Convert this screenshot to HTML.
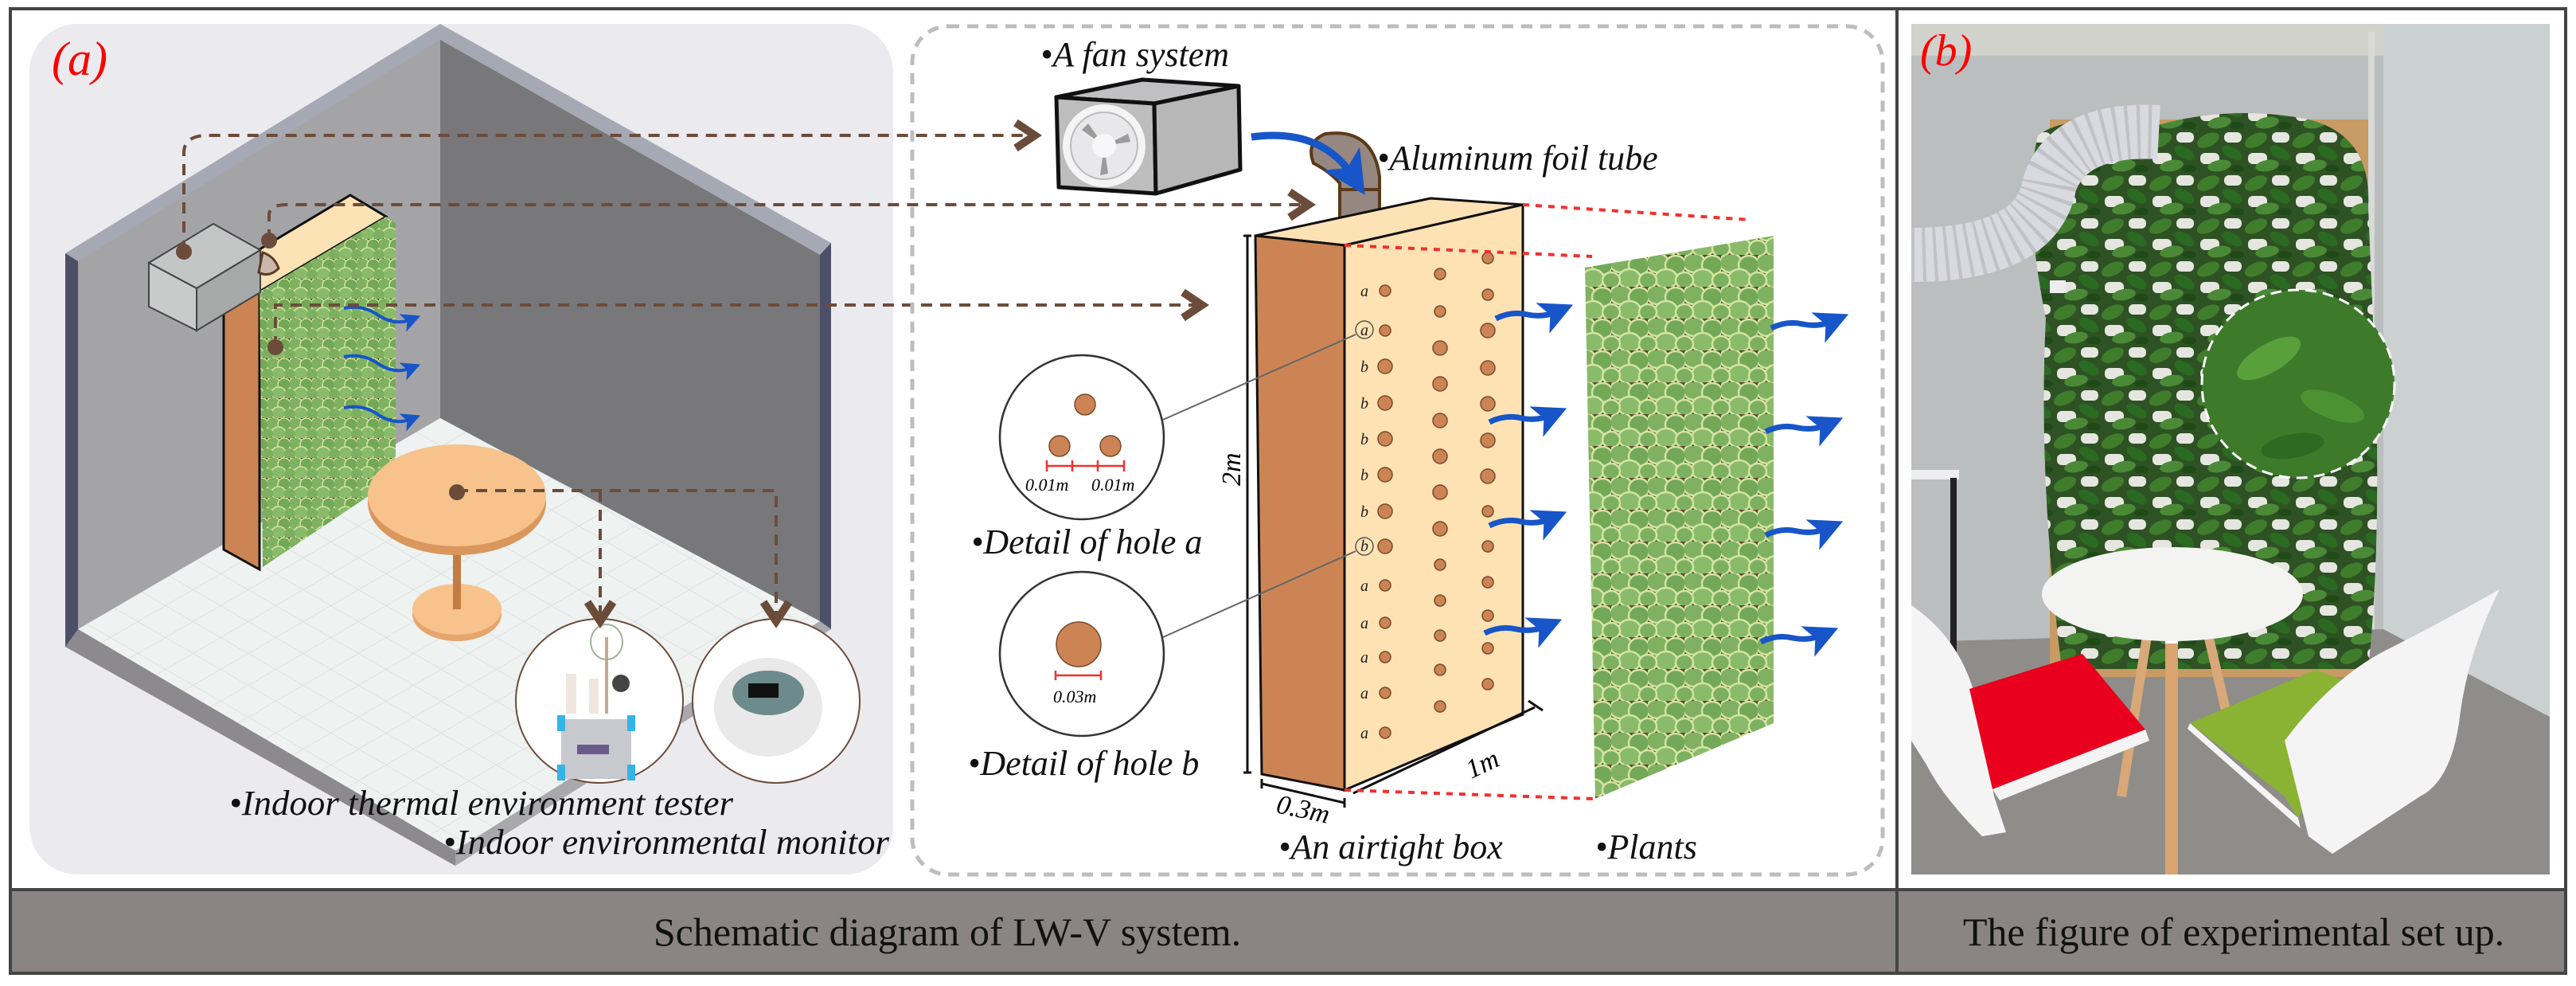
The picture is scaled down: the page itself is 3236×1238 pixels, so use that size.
<!DOCTYPE html>
<html><head><meta charset="utf-8"><style>
html,body{margin:0;padding:0;background:#fff}
svg{display:block}
text{font-family:"Liberation Serif","DejaVu Serif",serif}
.it{font-style:italic}
</style></head><body>
<svg width="3236" height="1238" viewBox="0 0 3236 1238" xmlns="http://www.w3.org/2000/svg" font-family="Liberation Serif, DejaVu Serif, serif">
<defs>
 <pattern id="leaf" width="46" height="40" patternUnits="userSpaceOnUse">
  <rect width="46" height="40" fill="#5e4a30"/>
  <ellipse cx="12" cy="10" rx="14" ry="12" fill="#7fb161" stroke="#d3e3a0" stroke-width="2.5"/>
  <ellipse cx="35" cy="13" rx="13" ry="12" fill="#73a857" stroke="#d3e3a0" stroke-width="2.5"/>
  <ellipse cx="23" cy="30" rx="14" ry="12" fill="#89bb6a" stroke="#d3e3a0" stroke-width="2.5"/>
  <ellipse cx="0" cy="32" rx="11" ry="10" fill="#7cb060" stroke="#d3e3a0" stroke-width="2.5"/>
  <ellipse cx="46" cy="32" rx="11" ry="10" fill="#7cb060" stroke="#d3e3a0" stroke-width="2.5"/>
 </pattern>
 <pattern id="leaf2" width="28" height="25" patternUnits="userSpaceOnUse">
  <rect width="28" height="25" fill="#5e4a30"/>
  <ellipse cx="7" cy="7" rx="9" ry="8" fill="#7fb161" stroke="#d3e3a0" stroke-width="1.5"/>
  <ellipse cx="21" cy="8" rx="8" ry="8" fill="#73a857" stroke="#d3e3a0" stroke-width="1.5"/>
  <ellipse cx="14" cy="19" rx="9" ry="8" fill="#89bb6a" stroke="#d3e3a0" stroke-width="1.5"/>
  <ellipse cx="0" cy="20" rx="7" ry="7" fill="#7cb060"/>
  <ellipse cx="28" cy="20" rx="7" ry="7" fill="#7cb060"/>
 </pattern>
 <pattern id="grid" width="40" height="40" patternUnits="userSpaceOnUse" patternTransform="matrix(0.866,0.5,-0.866,0.5,0,0)">
  <rect width="40" height="40" fill="#eef2f1"/>
  <path d="M0 0H40M0 0V40" stroke="#d5dbda" stroke-width="1.5"/>
 </pattern>
 <pattern id="pl" width="60" height="54" patternUnits="userSpaceOnUse">
  <rect width="60" height="54" fill="#2e5224"/>
  <rect x="4" y="30" width="24" height="14" rx="6" fill="#e6e6e0"/>
  <rect x="34" y="4" width="22" height="13" rx="6" fill="#e6e6e0"/>
  <ellipse cx="14" cy="14" rx="15" ry="8" fill="#3f7d2c" transform="rotate(-25 14 14)"/>
  <ellipse cx="44" cy="30" rx="14" ry="7" fill="#2b6a22" transform="rotate(30 44 30)"/>
  <ellipse cx="28" cy="46" rx="15" ry="7" fill="#4a8a36" transform="rotate(-10 28 46)"/>
  <ellipse cx="50" cy="50" rx="9" ry="5" fill="#1f4a18"/>
 </pattern>
 <marker id="ah" markerWidth="10" markerHeight="10" refX="5" refY="5" orient="auto"><path d="M1 1L7 5L1 9" fill="none" stroke="#6b4c3b" stroke-width="2.5"/></marker>
 <marker id="ba" markerWidth="6" markerHeight="6" refX="3" refY="3" orient="auto"><path d="M0 0L6 3L0 6L1.5 3Z" fill="#1755c9"/></marker>
</defs>

<rect x="13" y="11" width="3210" height="1211" fill="#fff" stroke="#444" stroke-width="4"/>
<rect x="13" y="1117" width="3210" height="105" fill="#8a8484" stroke="#444" stroke-width="4"/>
<line x1="2383" y1="11" x2="2383" y2="1222" stroke="#444" stroke-width="4"/>
<text x="1190" y="1187" font-size="50" text-anchor="middle" fill="#111">Schematic diagram of LW-V system.</text>
<text x="2806" y="1187" font-size="50" text-anchor="middle" fill="#111">The figure of experimental set up.</text>

<rect x="37" y="30" width="1085" height="1068" rx="60" fill="#ebeaef"/>
<polygon points="553,30 1044,305 1044,790 572,1087 82,812 82,318" fill="#a5a9b3"/>
<polygon points="553,50 553,525 98,790 98,328" fill="#a4a4a6"/>
<polygon points="553,50 1030,320 1030,780 553,525" fill="#78787a"/>
<polygon points="82,318 98,328 98,812 82,812" fill="#4b5068"/>
<polygon points="1030,320 1044,305 1044,790 1030,780" fill="#4b5068"/>
<polygon points="98,790 553,525 1030,780 572,1068" fill="url(#grid)"/>
<polygon points="82,812 98,790 572,1068 572,1087" fill="#8c8a8f"/>
<polygon points="572,1068 1030,780 1044,790 572,1087" fill="#a9a9ad"/>

<polygon points="440,245 485,272 326,366 281,340" fill="#fde2b5" stroke="#111" stroke-width="3"/>
<polygon points="281,340 326,366 326,715 281,690" fill="#cc8455" stroke="#111" stroke-width="3"/>
<polygon points="326,366 485,272 497,280 497,600 330,712" fill="url(#leaf2)"/>
<polygon points="268,281 327,314 247,362 187,330" fill="#c4c6c5" stroke="#444" stroke-width="2"/>
<polygon points="187,330 247,362 247,415 187,385" fill="#c9cbca" stroke="#444" stroke-width="2"/>
<polygon points="247,362 327,314 327,367 247,415" fill="#a7a9a8" stroke="#444" stroke-width="2"/>
<path d="M330,317 q15,5 20,20 q-12,12 -25,5z" fill="#c9b8ac" stroke="#5a3c22" stroke-width="3"/>
<g fill="none" stroke="#1755c9" stroke-width="4" marker-end="url(#ba)">
<path d="M432,387 q25,-5 45,10 q20,12 40,4"/>
<path d="M432,448 q25,-5 45,10 q20,12 40,4"/>
<path d="M432,512 q25,-5 45,10 q20,12 40,4"/>
</g>
<ellipse cx="574" cy="771" rx="56" ry="34" fill="#e6a56d"/>
<ellipse cx="574" cy="765" rx="56" ry="32" fill="#f7c28c"/>
<rect x="569" y="690" width="10" height="75" fill="#c27d45"/>
<ellipse cx="574" cy="631" rx="112" ry="66" fill="#d9975d"/>
<ellipse cx="574" cy="622" rx="112" ry="64" fill="#f7c28c"/>
<ellipse cx="753" cy="880" rx="105" ry="103" fill="#fff" stroke="#6b4c3b" stroke-width="2"/>
<ellipse cx="975" cy="880" rx="105" ry="103" fill="#fff" stroke="#6b4c3b" stroke-width="2"/>
<rect x="705" y="903" width="88" height="75" rx="6" fill="#c8c8cf"/>
<rect x="725" y="935" width="40" height="12" fill="#6a5a8a"/>
<rect x="700" y="898" width="10" height="20" fill="#35b4e6"/><rect x="788" y="898" width="10" height="20" fill="#35b4e6"/>
<rect x="700" y="960" width="10" height="20" fill="#35b4e6"/><rect x="788" y="960" width="10" height="20" fill="#35b4e6"/>
<rect x="711" y="846" width="13" height="50" fill="#f0e6e0"/><rect x="740" y="852" width="12" height="44" fill="#f0e6e0"/>
<line x1="762" y1="800" x2="762" y2="896" stroke="#c8a890" stroke-width="4"/>
<ellipse cx="762" cy="806" rx="20" ry="22" fill="none" stroke="#9fb39a" stroke-width="2"/>
<circle cx="780" cy="858" r="11" fill="#444"/>
<ellipse cx="965" cy="888" rx="68" ry="62" fill="#e9e9ea"/>
<ellipse cx="965" cy="870" rx="45" ry="28" fill="#6d8a8c"/>
<rect x="940" y="858" width="38" height="18" fill="#111"/>
<g fill="none" stroke="#6b4c3b" stroke-width="4" stroke-dasharray="14,10">
<path d="M231,316 V192 q0,-22 30,-22 H1292" marker-end="url(#ah)"/>
<path d="M338,302 V270 q0,-12 20,-13 H1636" marker-end="url(#ah)"/>
<path d="M346,436 V383 H1502" marker-end="url(#ah)"/>
<path d="M574,616 H975 V772" marker-end="url(#ah)"/>
<path d="M754,616 V772" marker-end="url(#ah)"/>
</g>
<g fill="#6b4c3b"><circle cx="231" cy="316" r="10"/><circle cx="338" cy="302" r="10"/><circle cx="346" cy="436" r="10"/><circle cx="574" cy="618" r="10"/></g>
<text x="65" y="94" font-size="60" class="it" fill="#f00">(a)</text>
<text x="288" y="1023" font-size="44" class="it" fill="#111" textLength="633" lengthAdjust="spacingAndGlyphs">•Indoor thermal environment tester</text>
<text x="557" y="1072" font-size="44" class="it" fill="#111" textLength="560" lengthAdjust="spacingAndGlyphs">•Indoor environmental monitor</text>

<rect x="1146" y="33" width="1219" height="1065" rx="45" fill="none" stroke="#bdbdbd" stroke-width="5" stroke-dasharray="14,10"/>
<text x="1307" y="83" font-size="44" class="it" fill="#111">•A fan system</text>
<polygon points="1327,122 1435,100 1556,108 1450,130" fill="#c0c0c2" stroke="#111" stroke-width="5" stroke-linejoin="round"/>
<polygon points="1327,122 1450,130 1452,243 1330,235" fill="#bdbdbe" stroke="#111" stroke-width="5" stroke-linejoin="round"/>
<polygon points="1450,130 1556,108 1558,213 1452,243" fill="#b7b7b8" stroke="#111" stroke-width="5" stroke-linejoin="round"/>
<circle cx="1387" cy="183" r="52" fill="#f4f4f4"/>
<circle cx="1387" cy="183" r="42" fill="#e8e8ea" stroke="#bbb" stroke-width="2"/>
<g fill="#9b9b9f"><path d="M1387,183 l-28,-20 l8,-8z"/><path d="M1387,183 l30,-15 l3,10z"/><path d="M1387,183 l5,35 l-10,2z"/></g>
<circle cx="1387" cy="183" r="15" fill="#f7f7f7"/>
<path d="M1683,240 H1733 V222 Q1725,160 1665,168 Q1640,178 1650,205 Q1670,215 1683,230Z" fill="#968780" stroke="#5a3a1a" stroke-width="4"/>
<rect x="1683" y="238" width="50" height="43" fill="#968780" stroke="#5a3a1a" stroke-width="4"/>
<path d="M1572,172 Q1660,160 1700,222" fill="none" stroke="#1755c9" stroke-width="9" marker-end="url(#ba)"/>
<text x="1730" y="213" font-size="44" class="it" fill="#111">•Aluminum foil tube</text>
<polygon points="1577,296 1797,249 1913,257 1689,308" fill="#fde2b5" stroke="#111" stroke-width="3"/>
<polygon points="1577,296 1689,308 1689,992 1585,972" fill="#cc8455" stroke="#111" stroke-width="3"/>
<polygon points="1689,308 1913,257 1913,897 1689,992" fill="#fee2b3" stroke="#111" stroke-width="3"/>
<g stroke="#111" stroke-width="3" fill="none">
<path d="M1562,296 H1572 M1567,296 V970 M1562,970 H1572"/>
<path d="M1585,978 V990 M1585,984 L1689,1008 M1689,1002 V1014"/>
<path d="M1700,996 L1928,888 M1920,880 L1938,892"/>
</g>
<text transform="translate(1558,610) rotate(-90)" font-size="34" class="it">2m</text>
<text transform="translate(1602,1020) rotate(12)" font-size="34" class="it">0.3m</text>
<text transform="translate(1848,978) rotate(-25)" font-size="34" class="it">1m</text>
<g fill="#cc8455" stroke="#7a4a2a" stroke-width="1.5">
<circle cx="1740" cy="365" r="7"/><circle cx="1740" cy="415" r="7"/><circle cx="1740" cy="460" r="9"/><circle cx="1740" cy="506" r="9"/><circle cx="1740" cy="551" r="9"/><circle cx="1740" cy="596" r="9"/><circle cx="1740" cy="642" r="9"/><circle cx="1740" cy="686" r="9"/><circle cx="1740" cy="735" r="7"/><circle cx="1740" cy="782" r="7"/><circle cx="1740" cy="825" r="7"/><circle cx="1740" cy="870" r="7"/><circle cx="1740" cy="920" r="7"/>
<circle cx="1809" cy="344" r="7"/><circle cx="1809" cy="391" r="7"/><circle cx="1809" cy="437" r="9"/><circle cx="1809" cy="482" r="9"/><circle cx="1809" cy="528" r="9"/><circle cx="1809" cy="573" r="9"/><circle cx="1809" cy="618" r="9"/><circle cx="1809" cy="664" r="9"/><circle cx="1809" cy="709" r="7"/><circle cx="1809" cy="754" r="7"/><circle cx="1809" cy="798" r="7"/><circle cx="1809" cy="841" r="7"/><circle cx="1809" cy="887" r="7"/>
<circle cx="1869" cy="324" r="7"/><circle cx="1869" cy="370" r="7"/><circle cx="1869" cy="415" r="9"/><circle cx="1869" cy="462" r="9"/><circle cx="1869" cy="507" r="9"/><circle cx="1869" cy="553" r="9"/><circle cx="1869" cy="598" r="9"/><circle cx="1869" cy="642" r="7"/><circle cx="1869" cy="686" r="7"/><circle cx="1869" cy="731" r="7"/><circle cx="1869" cy="773" r="7"/><circle cx="1869" cy="814" r="7"/><circle cx="1869" cy="859" r="7"/>
</g>
<g font-size="20" class="it" fill="#222" text-anchor="middle">
<text x="1714" y="372">a</text><text x="1714" y="421">a</text><text x="1714" y="467">b</text><text x="1714" y="513">b</text><text x="1714" y="558">b</text><text x="1714" y="603">b</text><text x="1714" y="649">b</text><text x="1714" y="692">b</text><text x="1714" y="742">a</text><text x="1714" y="789">a</text><text x="1714" y="832">a</text><text x="1714" y="877">a</text><text x="1714" y="927">a</text>
</g>
<circle cx="1714" cy="414" r="11" fill="none" stroke="#555" stroke-width="1.5"/>
<circle cx="1714" cy="686" r="11" fill="none" stroke="#555" stroke-width="1.5"/>
<line x1="1703" y1="420" x2="1461" y2="527" stroke="#666" stroke-width="2"/>
<line x1="1703" y1="692" x2="1461" y2="800" stroke="#666" stroke-width="2"/>
<circle cx="1359" cy="549" r="103" fill="#fff" stroke="#333" stroke-width="2.5"/>
<g fill="#cc8455" stroke="#7a4a2a" stroke-width="1.5"><circle cx="1363" cy="508" r="13"/><circle cx="1331" cy="560" r="13"/><circle cx="1395" cy="560" r="13"/></g>
<path d="M1315,585 H1412 M1315,578 V592 M1347,578 V592 M1379,578 V592 M1412,578 V592" stroke="#f03030" stroke-width="2.5"/>
<text x="1288" y="616" font-size="22" class="it">0.01m</text><text x="1371" y="616" font-size="22" class="it">0.01m</text>
<text x="1220" y="695" font-size="44" class="it" fill="#111">•Detail of hole a</text>
<circle cx="1359" cy="821" r="103" fill="#fff" stroke="#333" stroke-width="2.5"/>
<ellipse cx="1355" cy="809" rx="28" ry="28" fill="#cc8455" stroke="#7a4a2a" stroke-width="1.5"/>
<path d="M1326,848 H1383 M1326,842 V854 M1383,842 V854" stroke="#f03030" stroke-width="2.5"/>
<text x="1323" y="882" font-size="22" class="it">0.03m</text>
<text x="1216" y="973" font-size="44" class="it" fill="#111">•Detail of hole b</text>
<polygon points="1991,336 2228,296 2228,908 2004,1003" fill="url(#leaf)"/>
<g fill="none" stroke="#f03030" stroke-width="4" stroke-dasharray="8,8">
<path d="M1913,257 L2199,276"/><path d="M1689,308 L2000,322"/><path d="M1689,992 L2004,1003"/>
</g>
<g fill="none" stroke="#1755c9" stroke-width="7" marker-end="url(#ba)">
<path d="M1879,400 q20,-10 40,-5 q20,4 38,-4"/>
<path d="M1871,530 q20,-10 40,-5 q20,4 38,-4"/>
<path d="M1871,660 q20,-10 40,-5 q20,4 38,-4"/>
<path d="M1865,795 q20,-10 40,-5 q20,4 38,-4"/>
<path d="M2225,412 q20,-10 40,-5 q20,4 38,-4"/>
<path d="M2218,542 q20,-10 40,-5 q20,4 38,-4"/>
<path d="M2218,672 q20,-10 40,-5 q20,4 38,-4"/>
<path d="M2212,806 q20,-10 40,-5 q20,4 38,-4"/>
</g>
<text x="1606" y="1078" font-size="44" class="it" fill="#111">•An airtight box</text>
<text x="2004" y="1078" font-size="44" class="it" fill="#111">•Plants</text>

<svg x="2401" y="30" width="802" height="1068" viewBox="2401 30 802 1068">
<rect x="2401" y="30" width="802" height="1068" fill="#babebe"/>
<rect x="2401" y="30" width="802" height="40" fill="#d2d2cc"/>
<rect x="2994" y="30" width="209" height="1068" fill="#cbd0d1"/>
<rect x="2975" y="40" width="8" height="800" fill="#d8dad8"/>
<polygon points="2401,806 2994,790 3203,900 3203,1098 2401,1098" fill="#8f8d89"/>
<rect x="2401" y="590" width="60" height="12" fill="#eee"/><rect x="2450" y="600" width="8" height="220" fill="#222"/>
<rect x="2575" y="150" width="400" height="700" fill="#c89a64"/>
<path d="M2560,170 Q2600,140 2700,160 Q2800,130 2900,150 Q2980,170 2975,260 L2985,500 Q2990,700 2975,840 L2590,840 Q2560,600 2570,400 Q2540,250 2560,170Z" fill="url(#pl)"/>
<path d="M2401,320 Q2560,320 2575,230 Q2600,160 2712,166" fill="none" stroke="#d9dadf" stroke-width="68"/>
<path d="M2401,320 Q2560,320 2575,230 Q2600,160 2712,166" fill="none" stroke="#a9aab0" stroke-width="68" stroke-dasharray="4,10" opacity="0.5"/>
<ellipse cx="2887" cy="482" rx="121" ry="118" fill="#3d7a2a" stroke="#fff" stroke-width="3" stroke-dasharray="14,8"/>
<ellipse cx="2850" cy="450" rx="45" ry="18" fill="#5aa03a" transform="rotate(-30 2850 450)"/>
<ellipse cx="2930" cy="510" rx="42" ry="16" fill="#4d9232" transform="rotate(20 2930 510)"/>
<ellipse cx="2880" cy="560" rx="40" ry="15" fill="#2e6a22" transform="rotate(-10 2880 560)"/>
<rect x="2575" y="352" width="20" height="16" fill="#eee"/>
<line x1="2700" y1="780" x2="2665" y2="1000" stroke="#d8a878" stroke-width="12"/>
<line x1="2770" y1="780" x2="2805" y2="930" stroke="#d8a878" stroke-width="12"/>
<rect x="2720" y="786" width="16" height="312" fill="#d9a46e"/>
<rect x="2720" y="786" width="16" height="22" fill="#fff"/>
<ellipse cx="2729" cy="746" rx="164" ry="59" fill="#f3f3f1"/>
<path d="M2401,760 Q2460,800 2480,870 L2505,1000 L2520,1045 L2490,1050 Q2440,1000 2420,960 L2401,930Z" fill="#f4f4f4"/>
<polygon points="2474,865 2616,821 2695,916 2503,991" fill="#e8001e"/>
<polygon points="2503,991 2695,916 2700,930 2512,1005" fill="#f4f4f4"/>
<polygon points="2751,908 2909,841 2960,860 2887,1027 2870,1000" fill="#8ab334"/>
<path d="M2870,930 Q2930,850 3000,815 Q3060,785 3140,740 Q3100,820 3090,900 Q3080,980 3040,1000 L2930,1072 L2900,1050Z" fill="#f4f4f4"/>
<polygon points="2751,908 2887,1027 2890,1040 2748,915" fill="#f4f4f4"/>
<text x="2412" y="82" font-size="56" class="it" fill="#f00">(b)</text>
</svg>
</svg>
</body></html>
